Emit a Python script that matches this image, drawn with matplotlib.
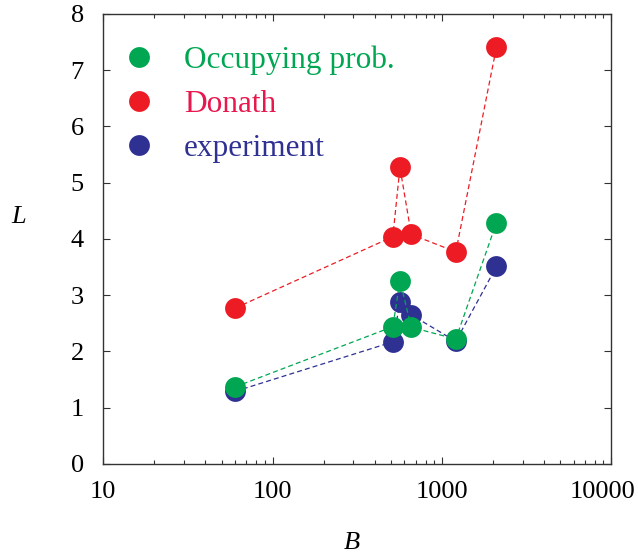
import matplotlib
matplotlib.use('Agg')
import matplotlib.pyplot as plt
import matplotlib.transforms as mtransforms
from matplotlib.lines import Line2D

# data
B = [60, 513, 565, 659, 1208, 2100]
L_occ = [1.37, 2.44, 3.26, 2.43, 2.22, 4.29]
L_don = [2.77, 4.04, 5.27, 4.08, 3.77, 7.41]
L_exp = [1.29, 2.17, 2.87, 2.65, 2.18, 3.51]

labels = ['Occupying prob.', 'Donath', 'experiment']
GREEN, RED, BLUE = '#00A651', '#ED1C24', '#2E3192'
TXT_RED = '#E8174D'

plt.rcParams['font.family'] = ['Liberation Serif', 'DejaVu Serif']

fig = plt.figure(figsize=(6.38, 5.54), dpi=100)
ax = fig.add_axes([0.162, 0.1625, 0.796, 0.8125])

ms = 15
for ys, c in [(L_exp, BLUE), (L_occ, GREEN), (L_don, RED)]:
    ax.plot(B, ys, color=c, lw=0.9, dashes=(4, 2.5))
    ax.plot(B, ys, 'o', color=c, ms=ms, mec='none')

ax.set_xscale('log')
ax.set_xlim(10, 10000)
ax.set_ylim(0, 8)
ax.set_yticks(range(0, 9))
ax.set_xticks([10, 100, 1000, 10000])
ax.set_xticklabels(['10', '100', '1000', '10000'])
ax.tick_params(which='both', direction='in', top=True, right=True, labelsize=19, color='#333333')
ax.tick_params(which='major', length=5, width=0.8)
ax.tick_params(which='minor', length=3, width=0.8)
ax.tick_params(axis='x', pad=12)
ax.tick_params(axis='y', pad=14)
for s in ax.spines.values():
    s.set_linewidth(1.0)
    s.set_color('#333333')

# last x label sits a little left so it stays inside the figure
last = ax.get_xticklabels()[-1]
last.set_transform(last.get_transform() +
                   mtransforms.ScaledTranslation(-9 / 100, 0, fig.dpi_scale_trans))

fig.text(19/638, 1 - 217/554, 'L', fontsize=19, style='italic', ha='center', va='center')
fig.text(352/638, 1 - 543/554, 'B', fontsize=19, style='italic', ha='center', va='center')

handles = [Line2D([], [], marker='o', ls='none', color=c, ms=ms, mec='none')
           for c in (GREEN, RED, BLUE)]
leg = ax.legend(handles, labels, loc='upper left', bbox_to_anchor=(0.0386, 0.93),
                frameon=False, fontsize=22.5, handlelength=1.0, handletextpad=0.95,
                labelspacing=0.48, borderpad=0, borderaxespad=0)
for t, c in zip(leg.get_texts(), (GREEN, TXT_RED, BLUE)):
    t.set_color(c)

fig.savefig('out.png', dpi=100)
